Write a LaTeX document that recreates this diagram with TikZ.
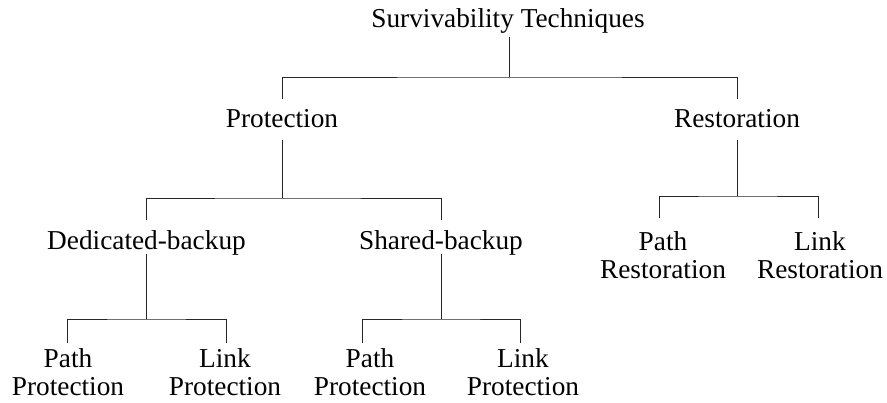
\documentclass[tikz,border=0pt]{standalone}
\usepackage{fontspec}
\setmainfont{Liberation Serif}
\newcommand\lblfont{\fontsize{27.3}{28.5}\selectfont}
\begin{document}
\begin{tikzpicture}[x=1pt,y=-1pt,
  every node/.style={font=\lblfont, inner sep=0pt, align=center},
  single/.style={anchor=base},
  double/.style={anchor=north},
  conn/.style={draw=black!85, line width=0.9pt}]
\useasboundingbox (0,0) rectangle (887,402);
% nodes
\node[single] (root) at (508,27) {Survivability Techniques};
\node[single] (prot) at (282,127) {Protection};
\node[single] (rest) at (737,127) {Restoration};
\node[single] (ded) at (146.5,249) {Dedicated-backup};
\node[single] (shar) at (441,249) {Shared-backup};
\node[double] (pr) at (663,231) {Path\\Restoration};
\node[double] (lr) at (820,231) {Link\\Restoration};
\node[double] (pp1) at (68,348) {Path\\Protection};
\node[double] (lp1) at (225,348) {Link\\Protection};
\node[double] (pp2) at (370,348) {Path\\Protection};
\node[double] (lp2) at (523,348) {Link\\Protection};
% connectors
\draw[conn] ([xshift=1pt,yshift=-10pt]root.base) -- ([xshift=1pt,yshift=-50pt]root.base) coordinate (b0);
\draw[conn] ([yshift=28pt]prot.base) |- (b0) -| ([yshift=28pt]rest.base);
\draw[conn] ([yshift=-13pt]prot.base) -- ([yshift=-71pt]prot.base) coordinate (b1);
\draw[conn] ([xshift=-0.5pt,yshift=29pt]ded.base) |- (b1) -| ([yshift=29pt]shar.base);
\draw[conn] ([yshift=-13pt]rest.base) -- ([yshift=-69pt]rest.base) coordinate (b2);
\draw[conn] ([xshift=-4pt,yshift=13pt]pr.north) |- (b2) -| ([xshift=-2pt,yshift=13pt]lr.north);
\draw[conn] ([xshift=-0.5pt,yshift=-5pt]ded.base) -- ([xshift=-0.5pt,yshift=-70pt]ded.base) coordinate (b3);
\draw[conn] ([xshift=-1pt,yshift=5pt]pp1.north) |- (b3) -| ([xshift=1pt,yshift=5pt]lp1.north);
\draw[conn] ([yshift=-5pt]shar.base) -- ([yshift=-70pt]shar.base) coordinate (b4);
\draw[conn] ([xshift=-8pt,yshift=5pt]pp2.north) |- (b4) -| ([xshift=-3pt,yshift=5pt]lp2.north);
\end{tikzpicture}
\end{document}
